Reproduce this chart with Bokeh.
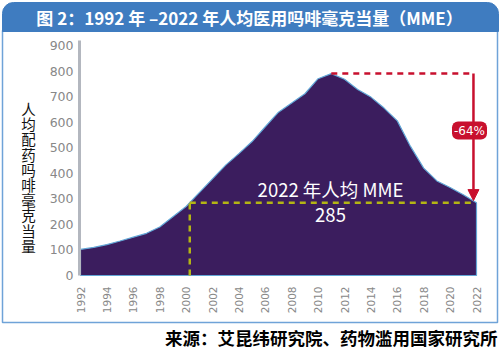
import numpy as np
from bokeh.plotting import figure
from bokeh.models import Label, Arrow, NormalHead, Range1d, LinearAxis, FixedTicker
from bokeh.embed import file_html
from bokeh.resources import INLINE

# ---- data ----
years = list(range(1992, 2023))
mme = [102, 110, 121, 135, 150, 165, 190, 230, 270, 324, 378, 432, 477, 524, 582,
       639, 675, 711, 770, 790, 768, 728, 698, 655, 605, 505, 420, 370, 344, 316, 285]
y_ticks = [0, 100, 200, 300, 400, 500, 600, 700, 800, 900]
x_ticks = list(range(1992, 2023, 2))
title_text = "图 2：1992 年 –2022 年人均医用吗啡毫克当量（MME）"
y_label_text = "人均配药吗啡毫克当量"
source_text = "来源：艾昆纬研究院、药物滥用国家研究所"
note_line1 = "2022 年人均 MME"

# derived values
peak_i = int(np.argmax(mme))
peak_year, peak_val = years[peak_i], mme[peak_i]
last_year, last_val = years[-1], mme[-1]
cross_year = float(np.interp(last_val, mme[:peak_i + 1], years[:peak_i + 1]))
drop_text = "-%d%%" % round((1 - last_val / peak_val) * 100)

CJK = "Noto Sans CJK SC"
RED = "#c8102e"
GREEN = "#b3b514"
PURPLE = "#3b1d5e"
BLUE = "#3f7cc0"

W, H = 500, 351
# page coordinates (pixels, y downward) for the frame; data ranges as extra ranges
p = figure(width=W, height=H, output_backend="svg", toolbar_location=None, title=None,
           x_range=Range1d(0, W), y_range=Range1d(H, 0),
           x_axis_location=None, y_axis_location=None,
           min_border=0, min_border_left=0, min_border_right=0, min_border_top=0, min_border_bottom=0)
p.outline_line_color = None
p.grid.visible = False
p.background_fill_color = "white"
p.border_fill_color = "white"

px_per_year = 13.2
x0_px = 80
yr_start = years[0] - x0_px / px_per_year
p.extra_x_ranges = {"yr": Range1d(yr_start, yr_start + W / px_per_year)}
px_per_unit = 25.56 / 100
zero_px = 275
p.extra_y_ranges = {"mme": Range1d(-(H - zero_px) / px_per_unit, zero_px / px_per_unit)}
D = dict(x_range_name="yr", y_range_name="mme")

# frame border + title banner
p.quad(left=2, right=497, top=30, bottom=322, fill_alpha=0, line_color="#6fa3d8", line_width=1.5)
p.quad(left=2, right=498, top=2, bottom=31, fill_color=BLUE, line_color=BLUE, border_radius=11)
p.quad(left=2, right=498, top=16, bottom=31, fill_color=BLUE, line_color=BLUE)
p.add_layout(Label(x=249, y=17, text=title_text,
                   text_align="center", text_baseline="middle", text_color="white",
                   text_font=CJK, text_font_style="bold", text_font_size="17px"))

# axes
yaxis = LinearAxis(ticker=FixedTicker(ticks=y_ticks), fixed_location=yr_start + 79 / px_per_year,
                   bounds=(0, 918), **D)
yaxis.axis_line_color = "#b3b7bf"
yaxis.axis_line_width = 3
yaxis.major_tick_line_color = None
yaxis.minor_tick_line_color = None
yaxis.major_tick_out = 0
yaxis.major_tick_in = 0
yaxis.major_label_text_color = "#888888"
yaxis.major_label_text_font = "DejaVu Sans"
yaxis.major_label_text_font_size = "12.5px"
yaxis.major_label_standoff = 6
p.add_layout(yaxis, "left")

xaxis = LinearAxis(ticker=FixedTicker(ticks=x_ticks), fixed_location=0, **D)
xaxis.axis_line_color = None
xaxis.major_tick_line_color = None
xaxis.minor_tick_line_color = None
xaxis.major_tick_out = 0
xaxis.major_tick_in = 0
xaxis.major_label_orientation = np.pi / 2
xaxis.major_label_text_color = "#888888"
xaxis.major_label_text_font = "DejaVu Sans"
xaxis.major_label_text_font_size = "10.5px"
xaxis.major_label_standoff = 11
p.add_layout(xaxis, "below")

# area
p.patch(x=years + [years[-1], years[0]], y=mme + [0, 0],
        fill_color=PURPLE, line_color="#62a6d6", line_width=1.2, **D)

# green dashed reference lines
arrow_x = last_year - 0.23
p.segment(x0=[cross_year, cross_year], y0=[0, last_val], x1=[cross_year, arrow_x], y1=[last_val, last_val],
          line_color=GREEN, line_width=2.5, line_dash="6 5", **D)

# red peak line + arrow
p.segment(x0=[peak_year], y0=[peak_val], x1=[arrow_x], y1=[peak_val],
          line_color=RED, line_width=2.5, line_dash="6 5", **D)
p.add_layout(Arrow(x_start=arrow_x, y_start=peak_val, x_end=arrow_x, y_end=last_val + 8,
                   line_color=RED, line_width=2.5,
                   end=NormalHead(size=11, fill_color=RED, line_color=RED), **D))
p.add_layout(Label(x=arrow_x - 0.3, y=567, text=drop_text, text_align="center", text_baseline="middle",
                   text_color="white", text_font="DejaVu Sans", text_font_size="12px",
                   background_fill_color=RED, border_radius=6, padding=2, **D))

# text in the area
p.add_layout(Label(x=peak_year - 0.06, y=340, text=note_line1, text_align="center", text_baseline="middle",
                   text_color="white", text_font=CJK, text_font_size="18.5px", **D))
p.add_layout(Label(x=peak_year - 0.06, y=235, text=str(last_val), text_align="center", text_baseline="middle",
                   text_color="white", text_font=CJK, text_font_size="18.5px", **D))

# y label (stacked characters)
for i, ch in enumerate(y_label_text):
    p.add_layout(Label(x=28, y=108 + i * 15.2, text=ch,
                       text_align="center", text_baseline="middle", text_color="#111111",
                       text_font=CJK, text_font_size="14.5px"))

# source
p.add_layout(Label(x=497, y=337, text=source_text,
                   text_align="right", text_baseline="middle", text_color="black",
                   text_font=CJK, text_font_style="bold", text_font_size="17.5px"))

open("out.html", "w").write(file_html(p, INLINE))
